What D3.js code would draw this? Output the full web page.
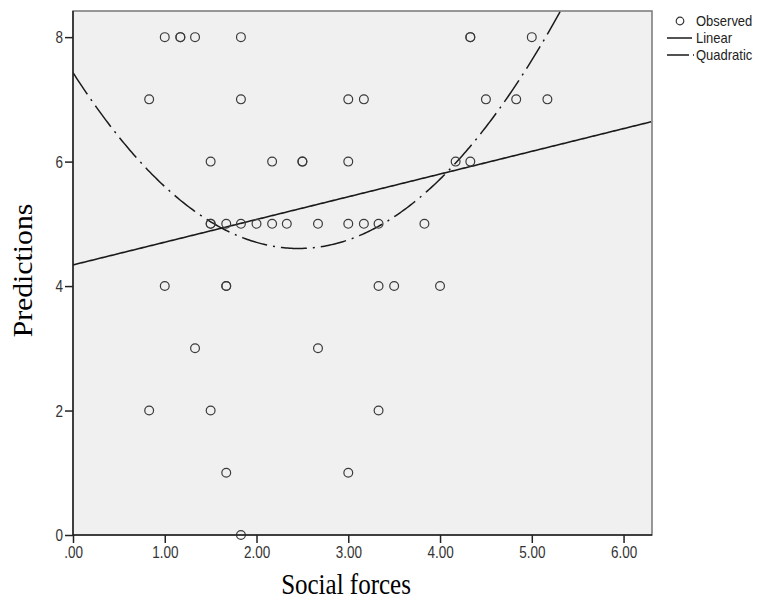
<!DOCTYPE html>
<html>
<head>
<meta charset="utf-8">
<script src="https://cdn.jsdelivr.net/npm/d3@7"></script>
<style>
body { margin: 0; background: #fff; }
text { font-family: "Liberation Sans", Arial, sans-serif; }
</style>
</head>
<body>
<svg width="757" height="601"></svg>
<script>
// observed points (Social forces, Predictions)
var socialForces = [1.00, 1.17, 1.17, 1.33, 1.83, 4.33, 4.33, 5.00,
  0.83, 1.83, 3.00, 3.17, 4.50, 4.83, 5.17,
  1.50, 2.17, 2.50, 2.50, 3.00, 4.17, 4.33,
  1.50, 1.50, 1.67, 1.83, 2.00, 2.17, 2.33, 2.67, 3.00, 3.17, 3.33, 3.83,
  1.00, 1.67, 1.67, 3.33, 3.50, 4.00,
  1.33, 2.67,
  0.83, 1.50, 3.33,
  1.67, 3.00,
  1.83];
var predictions = [8, 8, 8, 8, 8, 8, 8, 8,
  7, 7, 7, 7, 7, 7, 7,
  6, 6, 6, 6, 6, 6, 6,
  5, 5, 5, 5, 5, 5, 5, 5, 5, 5, 5, 5,
  4, 4, 4, 4, 4, 4,
  3, 3,
  2, 2, 2,
  1, 1,
  0];

// fitted curve coefficients: [intercept, b1, b2]
var linearFit = [4.34, 0.365];
var quadraticFit = [7.43, -2.30, 0.468];

var xTicks = [0, 1, 2, 3, 4, 5, 6];
var yTicks = [0, 2, 4, 6, 8];
var legendLabels = ["Observed", "Linear", "Quadratic"];

var svg = d3.select("svg");
var margin = {top: 11, left: 73};
var graphWidth = 652 - 73;
var graphHeight = 535 - 11;

var x = d3.scaleLinear().domain([0, 6.31]).range([0, graphWidth]);
var y = d3.scaleLinear().domain([0, 8.42]).range([graphHeight, 0]);

var graph = svg.append("g")
  .attr("transform", "translate(" + margin.left + "," + margin.top + ")");

graph.append("rect")
  .attr("width", graphWidth)
  .attr("height", graphHeight)
  .attr("fill", "#f0f0f0")
  .attr("stroke", "#777")
  .attr("stroke-width", 1.5);

graph.append("defs").append("clipPath").attr("id", "clip")
  .append("rect").attr("width", graphWidth).attr("height", graphHeight);

// fit lines
var xs = d3.range(0, 6.32, 0.02);
var line = d3.line().x(d => x(d[0])).y(d => y(d[1]));

graph.append("path")
  .datum(xs.map(v => [v, linearFit[0] + linearFit[1] * v]))
  .attr("clip-path", "url(#clip)")
  .attr("d", line)
  .attr("fill", "none")
  .attr("stroke", "#1a1a1a")
  .attr("stroke-width", 1.6);

graph.append("path")
  .datum(xs.map(v => [v, quadraticFit[0] + quadraticFit[1] * v + quadraticFit[2] * v * v]))
  .attr("clip-path", "url(#clip)")
  .attr("d", line)
  .attr("fill", "none")
  .attr("stroke", "#1a1a1a")
  .attr("stroke-width", 1.5)
  .attr("stroke-dasharray", "26,6,2,6");

// points
graph.selectAll("circle.obs")
  .data(socialForces)
  .enter()
  .append("circle")
  .attr("class", "obs")
  .attr("cx", d => x(d))
  .attr("cy", (d, i) => y(predictions[i]))
  .attr("r", 4.4)
  .attr("fill", "none")
  .attr("stroke", "#3a3a3a")
  .attr("stroke-width", 1.2);

// axes
var xAxis = d3.axisBottom(x).tickValues(xTicks).tickSize(8)
  .tickFormat(d => d3.format(".2f")(d).replace(/^0/, ""));
var yAxis = d3.axisLeft(y).tickValues(yTicks).tickSize(8)
  .tickFormat(d3.format("d"));

var xAxisGroup = graph.append("g")
  .attr("transform", "translate(0," + graphHeight + ")")
  .call(xAxis);
var yAxisGroup = graph.append("g").call(yAxis);

[xAxisGroup, yAxisGroup].forEach(g => {
  g.select(".domain").remove();
  g.selectAll("line").attr("stroke", "#222").attr("stroke-width", 1.5);
  g.selectAll("text").attr("fill", "#333").style("font-size", "13.5px")
    .attr("x", null).attr("y", null).attr("dy", null);
});
// tick labels are a little tall in the original
xAxisGroup.selectAll("text").attr("transform", "translate(0,23) scale(1,1.18)");
yAxisGroup.selectAll("text").attr("transform", "translate(-10,5.6) scale(1,1.18)");

graph.append("line").attr("x1", 0).attr("x2", 0).attr("y1", 0).attr("y2", graphHeight)
  .attr("stroke", "#222").attr("stroke-width", 1.5);
graph.append("line").attr("x1", 0).attr("x2", graphWidth).attr("y1", graphHeight).attr("y2", graphHeight)
  .attr("stroke", "#222").attr("stroke-width", 1.5);

// axis titles
svg.append("text")
  .attr("transform", "translate(346,594) scale(1,1.14)")
  .attr("text-anchor", "middle")
  .style("font-family", "'Liberation Serif', 'Times New Roman', serif")
  .style("font-size", "25px")
  .text("Social forces");

svg.append("text")
  .attr("transform", "translate(31.5,270.5) rotate(-90) scale(1.1,1)")
  .attr("text-anchor", "middle")
  .style("font-family", "'Liberation Serif', 'Times New Roman', serif")
  .style("font-size", "27px")
  .text("Predictions");

// legend
var legend = svg.append("g").attr("transform", "translate(667,21)");
legend.append("circle").attr("cx", 13).attr("cy", 0).attr("r", 3.8)
  .attr("fill", "none").attr("stroke", "#333").attr("stroke-width", 1.2);
legend.append("line").attr("x1", 0).attr("x2", 25).attr("y1", 17).attr("y2", 17)
  .attr("stroke", "#1a1a1a").attr("stroke-width", 1.5);
legend.append("line").attr("x1", 0).attr("x2", 27).attr("y1", 34).attr("y2", 34)
  .attr("stroke", "#1a1a1a").attr("stroke-width", 1.5).attr("stroke-dasharray", "22,4,2,6");
legend.selectAll("text.lab")
  .data(legendLabels)
  .enter()
  .append("text")
  .attr("class", "lab")
  .attr("transform", (d, i) => "translate(29," + (i * 17 + 5) + ") scale(1,1.1)")
  .attr("fill", "#222")
  .style("font-size", "13px")
  .text(d => d);
</script>
</body>
</html>
